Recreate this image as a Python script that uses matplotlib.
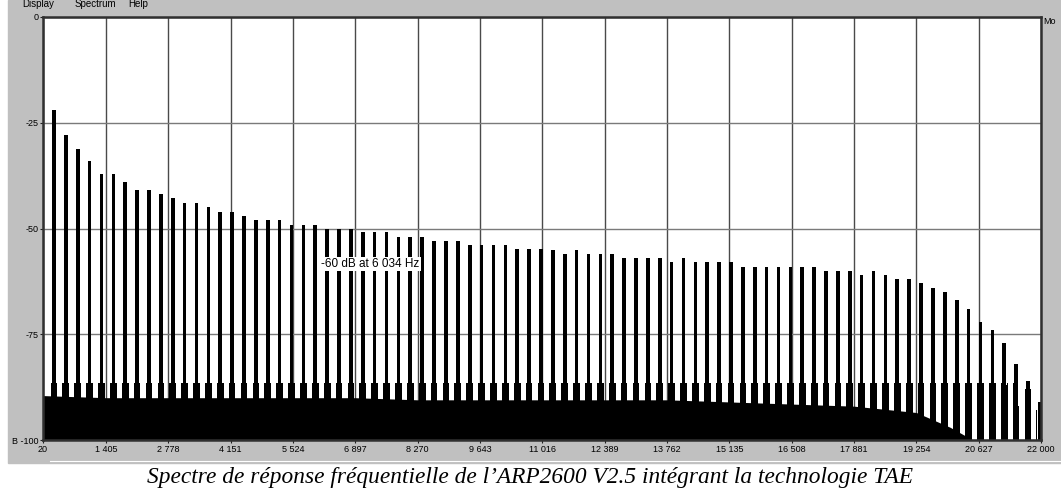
"""
ARP2600 V2.5 frequency response spectrum (analyzer screenshot look)
"""

import numpy as np
import matplotlib.pyplot as plt
from matplotlib.patches import Rectangle
from matplotlib.lines import Line2D

W, H = 1061, 492

# Harmonic series of the test note (fundamental ~ middle C)
F0 = 261.6
harmonics = np.arange(1, 85)

# Peak level of each harmonic, dB
peak_db = [
    -22.1, -28.0, -31.1, -34.0, -37.0, -37.0, -39.1, -40.9, -40.9, -41.9,
    -42.9, -44.0, -44.0, -45.0, -46.0, -46.0, -47.0, -48.1, -48.1, -48.1,
    -49.1, -49.1, -49.1, -50.1, -50.2, -50.2, -50.9, -50.9, -50.9, -51.9,
    -51.9, -51.9, -52.9, -52.9, -52.9, -53.9, -53.9, -53.9, -53.9, -54.9,
    -54.9, -54.9, -55.0, -56.0, -55.0, -56.0, -56.0, -56.0, -57.0, -57.0,
    -57.0, -57.0, -58.0, -57.0, -58.0, -58.0, -58.0, -58.0, -59.0, -59.0,
    -59.0, -59.0, -59.0, -59.0, -59.0, -60.0, -60.0, -60.0, -61.0, -60.0,
    -61.0, -62.0, -62.0, -63.0, -64.0, -65.0, -67.0, -69.0, -72.0, -74.0,
    -77.0, -82.0, -86.0, -91.0,
]

# Noise floor (top of the solid black area)
floor_hz = [20, 1405, 2778, 4151, 5524, 6897, 8270, 9643, 11016, 12389,
            13762, 15135, 16508, 17881, 19254, 20000, 20500, 22000]
floor_db = [-89.5, -90.0, -90.0, -90.0, -90.0, -90.0, -90.5, -90.5, -90.5,
            -90.5, -90.5, -91.0, -91.5, -92.0, -93.5, -97.0, -100.0, -100.0]

x_ticks = [20, 1405, 2778, 4151, 5524, 6897, 8270, 9643, 11016, 12389,
           13762, 15135, 16508, 17881, 19254, 20627, 22000]
x_labels = ['20', '1 405', '2 778', '4 151', '5 524', '6 897', '8 270',
            '9 643', '11 016', '12 389', '13 762', '15 135', '16 508',
            '17 881', '19 254', '20 627', '22 000']
y_ticks = [0, -25, -50, -75, -100]
y_labels = ['0', '-25', '-50', '-75', 'B -100']

cursor_text = '-60 dB at 6 034 Hz'
caption = ("Spectre de réponse fréquentielle de l\u2019ARP2600 V2.5 "
           "intégrant la technologie TAE")

UI_FONT = ['Liberation Sans', 'DejaVu Sans']

fig = plt.figure(figsize=(W / 100, H / 100), dpi=100)
fig.patch.set_facecolor('white')

# grey window background
fig.patches.append(Rectangle((8 / W, 1 - 463 / H), (W - 8) / W, 463 / H,
                             transform=fig.transFigure, color='#c0c0c0',
                             zorder=-10))
fig.add_artist(Line2D([50 / W, 1], [1 - 461 / H, 1 - 461 / H],
                      color='white', lw=0.8))

ax = fig.add_axes([43 / W, 1 - 440 / H, 998 / W, 423 / H])
ax.set_facecolor('white')
ax.set_xlim(20, 22000)
ax.set_ylim(-100, 0)

# noise floor
ax.fill_between(floor_hz, -100, floor_db, color='black', lw=0, zorder=2)

# harmonic peaks: bar with a side step and a wider foot near the floor
hw_top, hw_mid, hw_base = 40, 54, 74
for n, lvl in zip(harmonics, peak_db):
    f = n * F0
    sh = min(lvl - 2, -86.5)
    mid = min(lvl - 10, sh)
    xs = [f - hw_base, f - hw_base, f - hw_mid, f - hw_mid, f - hw_top,
          f - hw_top, f + hw_top, f + hw_top, f + hw_mid, f + hw_mid,
          f + hw_base, f + hw_base]
    ys = [-100, sh, sh, mid, mid, lvl, lvl, mid, mid, sh, sh, -100]
    ax.fill(xs, ys, color='black', lw=0, zorder=3)

# grid and axes
ax.set_xticks(x_ticks)
ax.set_xticklabels(x_labels, family=UI_FONT, fontsize=6.5)
ax.set_yticks(y_ticks)
ax.set_yticklabels(y_labels, family=UI_FONT, fontsize=6.5)
ax.xaxis.grid(True, color='#4a4a4a', lw=1.0)
ax.yaxis.grid(True, color='#7a7a7a', lw=1.0)
ax.set_axisbelow(True)
ax.tick_params(direction='out', length=2.5, width=0.8, color='#202020',
               pad=1)
for sp in ax.spines.values():
    sp.set_color('#303030')
    sp.set_linewidth(1.8)
    sp.set_zorder(5)

# cursor readout
ax.text(6150, -58.4, cursor_text, family=UI_FONT, fontsize=8.5,
        ha='left', va='center', zorder=6,
        bbox=dict(facecolor='white', edgecolor='none', pad=1.0))

# window chrome text (menu bar, mostly scrolled off the top)
for x, word in [(22, 'Display'), (75, 'Spectrum'), (128, 'Help')]:
    fig.text(x / W, 1 - 7 / H, word, family=UI_FONT, fontsize=7,
             va='baseline', ha='left')
fig.text(1043 / W, 1 - 24 / H, 'Mo', family=UI_FONT, fontsize=6.5,
         va='baseline', ha='left')

# caption
fig.text(530 / W, 1 - 478 / H, caption, ha='center', va='center',
         fontsize=16.8, family=['Liberation Serif', 'DejaVu Serif'],
         style='italic')

plt.savefig('out.png', dpi=100)
